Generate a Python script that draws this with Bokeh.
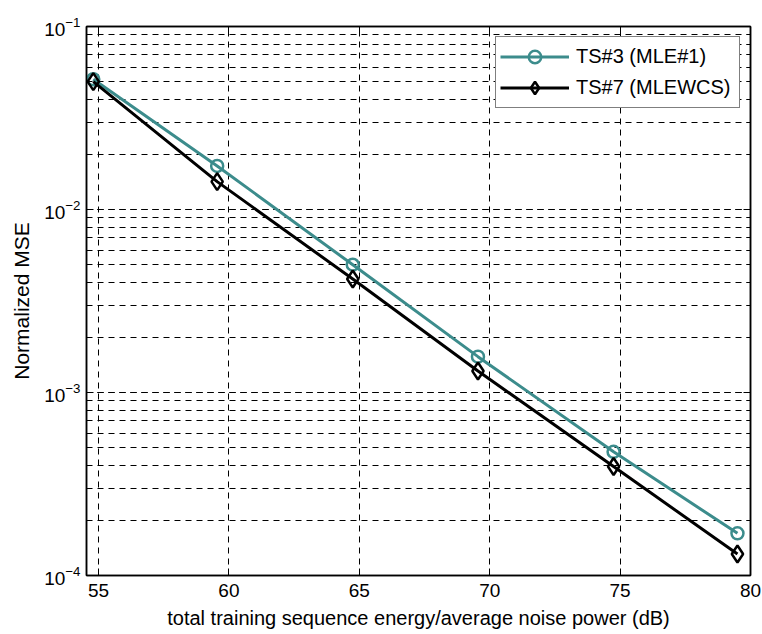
from bokeh.plotting import figure
from bokeh.models import (LinearAxis, LogAxis, FixedTicker, LogTicker,
                          CustomJSTickFormatter, Range1d)
from bokeh.embed import file_html
from bokeh.resources import INLINE

# ---- data ----
snr_db = [54.8, 59.55, 64.75, 69.55, 74.75, 79.5]
mse_ts3 = [0.0515, 0.0173, 0.00499, 0.00157, 0.000474, 0.000170]
mse_ts7 = [0.0500, 0.0142, 0.00417, 0.00131, 0.000394, 0.000131]
x_ticks = [55, 60, 65, 70, 75, 80]
label_ts3 = "TS#3 (MLE#1)"
label_ts7 = "TS#7 (MLEWCS)"

FONT = "Liberation Sans"
TEAL = "#3C8C8C"

p = figure(frame_width=664, frame_height=549,
           min_border_left=86, min_border_right=12,
           min_border_top=26, min_border_bottom=59,
           y_axis_type="log",
           x_range=Range1d(54.54, 80), y_range=Range1d(1e-4, 1e-1),
           output_backend="svg", toolbar_location=None,
           background_fill_color="white", border_fill_color="white")
p.outline_line_color = "black"
p.outline_line_width = 1.5

# axes styling
for ax in p.xaxis + p.yaxis:
    ax.axis_line_color = "black"
    ax.axis_line_width = 1.5
    ax.major_tick_in = 7
    ax.major_tick_out = 0
    ax.minor_tick_in = 4
    ax.minor_tick_out = 0
    ax.major_label_text_font = FONT
    ax.major_label_text_font_size = "19px"
    ax.major_label_text_color = "black"
    ax.axis_label_text_font = FONT
    ax.axis_label_text_font_style = "normal"
    ax.axis_label_text_color = "black"
    ax.major_tick_line_color = "black"
    ax.minor_tick_line_color = "black"

p.xaxis.ticker = FixedTicker(ticks=x_ticks)
p.xaxis.minor_tick_line_color = None
p.xaxis.major_label_standoff = 8
p.xaxis.axis_label = "total training sequence energy/average noise power (dB)"
p.xaxis.axis_label_text_font_size = "20px"
p.xaxis.axis_label_standoff = 7

p.yaxis.ticker = LogTicker(num_minor_ticks=10)
p.yaxis.major_label_standoff = 6
p.yaxis.axis_label = "Normalized MSE"
p.yaxis.axis_label_text_font_size = "21px"
p.yaxis.axis_label_standoff = 8

# box axes (top/right)
empty = CustomJSTickFormatter(code="return ''")
top = LinearAxis(ticker=FixedTicker(ticks=x_ticks), formatter=empty,
                 major_tick_in=7, major_tick_out=0, minor_tick_line_color=None,
                 axis_line_width=1.5, major_label_standoff=0)
right = LogAxis(ticker=LogTicker(num_minor_ticks=10), formatter=empty,
                major_tick_in=7, major_tick_out=0, minor_tick_in=4, minor_tick_out=0,
                axis_line_width=1.5, major_label_standoff=0)
p.add_layout(top, "above")
p.add_layout(right, "right")

# grids
p.xgrid.ticker = FixedTicker(ticks=x_ticks)
p.xgrid.grid_line_color = "black"
p.xgrid.grid_line_dash = "6 5"
p.xgrid.grid_line_width = 1
p.ygrid.grid_line_color = "black"
p.ygrid.grid_line_dash = "6 5"
p.ygrid.minor_grid_line_color = "black"
p.ygrid.minor_grid_line_dash = "6 5"
p.ygrid.grid_line_width = 1
p.ygrid.minor_grid_line_width = 1

# series
p.line(snr_db, mse_ts3, line_color=TEAL, line_width=3, legend_label=label_ts3)
p.scatter(snr_db, mse_ts3, marker="circle", size=12,
          fill_alpha=0, line_color=TEAL, line_width=2.5, legend_label=label_ts3)
p.line(snr_db, mse_ts7, line_color="black", line_width=3, legend_label=label_ts7)
p.scatter(snr_db, mse_ts7, marker="diamond", size=17,
          fill_alpha=0, line_color="black", line_width=2.5, legend_label=label_ts7)

lg = p.legend[0]
lg.location = "top_right"
lg.margin = 10
lg.padding = 4
lg.spacing = 0
lg.glyph_width = 69
lg.glyph_height = 31
lg.label_height = 24
lg.label_width = 159
lg.label_standoff = 7
lg.label_text_font = FONT
lg.label_text_font_size = "20px"
lg.label_text_color = "black"
lg.border_line_color = "black"
lg.border_line_width = 1
lg.background_fill_color = "white"
lg.background_fill_alpha = 1

open("out.html", "w").write(file_html(p, INLINE))
